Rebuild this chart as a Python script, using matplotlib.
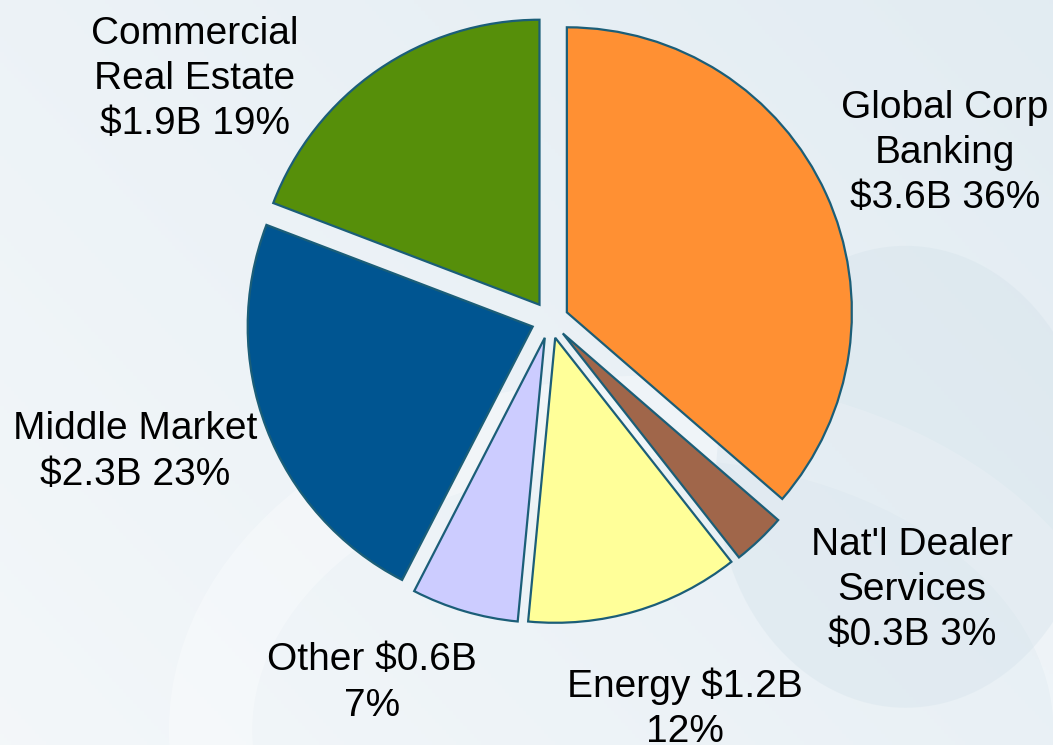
import matplotlib.pyplot as plt
import numpy as np
from matplotlib.patches import Circle, Ellipse

plt.rcParams['font.family'] = ['Liberation Sans', 'DejaVu Sans']

# Portfolio segments, clockwise from 12 o'clock
segments = ['Global Corp\nBanking', "Nat'l Dealer\nServices", 'Energy', 'Other',
            'Middle Market', 'Commercial\nReal Estate']
balances = [3.6, 0.3, 1.2, 0.6, 2.3, 1.9]          # $B
shares = [36, 3, 12, 7, 23, 19]                    # %
colors = ['#FF9033', '#A0664A', '#FFFF99', '#CCCCFF', '#005591', '#568F0A']

label_text = [
    'Global Corp\nBanking\n$3.6B 36%',
    "Nat'l Dealer\nServices\n$0.3B 3%",
    'Energy $1.2B\n12%',
    'Other $0.6B\n7%',
    'Middle Market\n$2.3B 23%',
    'Commercial\nReal Estate\n$1.9B 19%',
]
# label centres in pixels (x from left, y from top)
label_px = [(945, 153), (912, 590), (685, 709), (372, 683), (135, 452), (195, 79)]

W, H = 1053, 745
fig = plt.figure(figsize=(W / 100, H / 100), dpi=100)

# soft blue-white backdrop
bg = fig.add_axes([0, 0, 1, 1], zorder=0)
yy, xx = np.mgrid[0:1:200j, 0:1:300j]
grad = 0.15 + 0.55 * (xx * 0.6 + (1 - yy) * 0.4)
bg.imshow(grad, cmap=plt.matplotlib.colors.LinearSegmentedColormap.from_list(
    'bg', ['#F8FAFC', '#D9E6EE']), extent=[0, 1, 0, 1], aspect='auto', vmin=0, vmax=1)
bg.add_patch(Circle((0.62, 0.02), 0.42, transform=bg.transAxes, fill=False,
                    lw=60, ec='white', alpha=0.3))
bg.add_patch(Ellipse((0.86, 0.36), 0.36, 0.62, transform=bg.transAxes,
                     fc='#CFDFE8', ec='none', alpha=0.3))
bg.set_xlim(0, 1)
bg.set_ylim(0, 1)
bg.axis('off')

# pie axes spanning the figure, 285 px per unit radius, centre at (550, 320)
ax = fig.add_axes([0, 0, 1, 1], zorder=1)
ax.patch.set_alpha(0)
unit = 285
cx, cy = 550, 320
ax.pie(balances, colors=colors, startangle=90, counterclock=False,
       explode=[0.065] * len(balances),
       wedgeprops=dict(edgecolor='#1B5E78', linewidth=1.6))
ax.set_xlim(-cx / unit, (W - cx) / unit)
ax.set_ylim(-(H - cy) / unit, cy / unit)
ax.set_aspect('equal')
ax.axis('off')

for txt, (px, py) in zip(label_text, label_px):
    fig.text(px / W, 1 - py / H, txt, ha='center', va='center',
             fontsize=28, linespacing=1.33, color='black', zorder=3)

fig.savefig('out.png', dpi=100)
